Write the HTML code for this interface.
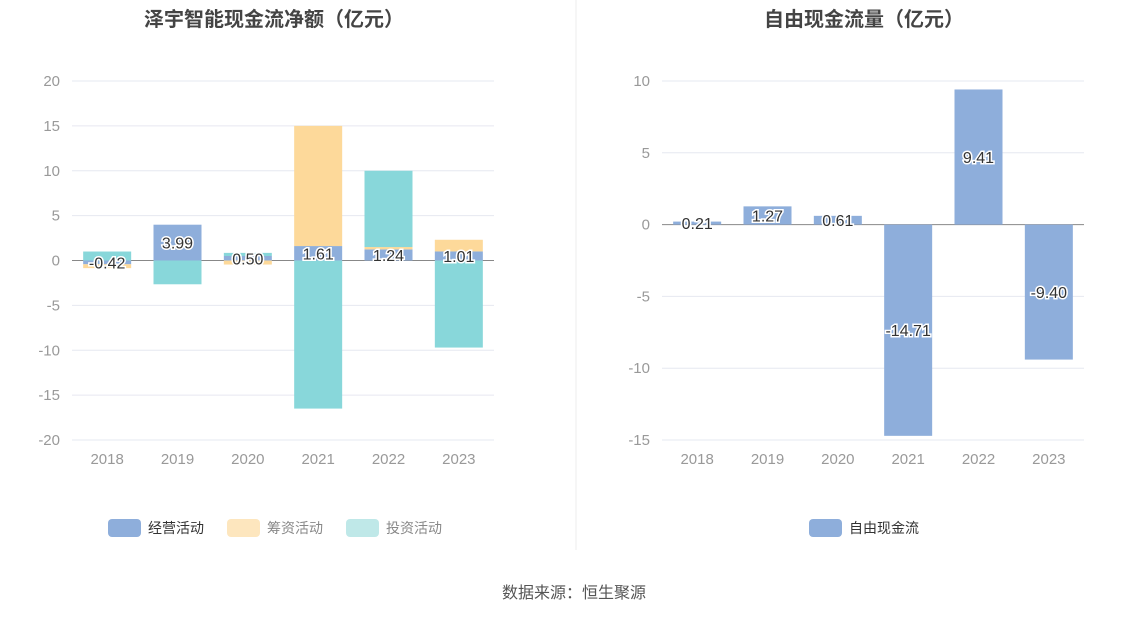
<!DOCTYPE html>
<html><head><meta charset="utf-8"><style>
body{margin:0;background:#fff;font-family:"Liberation Sans","Noto Sans CJK SC",sans-serif;}
svg text{font-family:"Liberation Sans","Noto Sans CJK SC",sans-serif;}
</style></head><body>
<svg id="svg" width="1148" height="619" xmlns="http://www.w3.org/2000/svg">
<text x="274" y="26" text-anchor="middle" font-size="20" font-weight="bold" fill="#444">泽宇智能现金流净额（亿元）</text>
<text x="864" y="26" text-anchor="middle" font-size="20" font-weight="bold" fill="#444">自由现金流量（亿元）</text>
<line x1="576" y1="0" x2="576" y2="550" stroke="#eee"/>
<g id="left"></g><g id="right"></g>
<g>
<rect x="108" y="519" width="33" height="18" rx="4" fill="#8eaedb"/>
<text x="148" y="533" font-size="14" fill="#333">经营活动</text>
<rect x="227" y="519" width="33" height="18" rx="4" fill="#fde6be"/>
<text x="267" y="533" font-size="14" fill="#888">筹资活动</text>
<rect x="346" y="519" width="33" height="18" rx="4" fill="#bfe8e8"/>
<text x="386" y="533" font-size="14" fill="#888">投资活动</text>
</g>
<g>
<rect x="809" y="519" width="33" height="18" rx="4" fill="#8eaedb"/>
<text x="849" y="533" font-size="14" fill="#333">自由现金流</text>
</g>
<text x="574" y="598" text-anchor="middle" font-size="16" fill="#555">数据来源：恒生聚源</text>
</svg>
<script>
const years=["2018","2019","2020","2021","2022","2023"];
const operating=[-0.42,3.99,0.50,1.61,1.24,1.01];
const financing=[-0.43,0,-0.45,13.39,0.26,1.3];
const investing=[1.0,-2.65,0.35,-16.5,8.5,-9.7];
const leftTicks=[20,15,10,5,0,-5,-10,-15,-20];
const fcf=[0.21,1.27,0.61,-14.71,9.41,-9.40];
const rightTicks=[10,5,0,-5,-10,-15];
const NS="http://www.w3.org/2000/svg";
function mk(p,t,a){const e=document.createElementNS(NS,t);for(const k in a)e.setAttribute(k,a[k]);p.appendChild(e);return e;}
function axes(g,x0,x1,yTop,yBot,vTop,vBot,ticks,pfx){
  const y=v=>yTop+(vTop-v)/(vTop-vBot)*(yBot-yTop);
  ticks.forEach(t=>{
    const l=mk(g,'line',{x1:x0,x2:x1,y1:y(t),y2:y(t),stroke:t===0?'#888':'#e6e8f0'});
    
    
    const tx=mk(g,'text',{x:x0-12,y:y(t)+5,'text-anchor':'end','font-size':15,fill:'#999'});tx.textContent=t;
    
    
  });
  const bw=(x1-x0)/years.length;
  years.forEach((yr,i)=>{
    const tx=mk(g,'text',{x:x0+bw*(i+.5),y:yBot+24,'text-anchor':'middle','font-size':15,fill:'#999'});tx.textContent=yr;
    
    
  });
  return {y,bw};
}
function bar(g,x,w,y,v0,v1,fill,name){
  const a=y(v0),b=y(v1);
  const r=mk(g,'rect',{x:x,y:Math.min(a,b),width:w,height:Math.max(Math.abs(a-b),0.5),fill:fill});
  
  
}
function label(g,x,yy,txt,name){
  const t=mk(g,'text',{x:x,y:yy,'text-anchor':'middle','font-size':16,fill:'#333',stroke:'#fff','stroke-width':3,'paint-order':'stroke'});
  t.textContent=txt;
  
  
}
// left
const L=document.getElementById('left');
const la=axes(L,72,494,81,440,20,-20,leftTicks,'left');
years.forEach((yr,i)=>{
  const x=72+la.bw*i+(la.bw-48)/2;
  let pos=0,neg=0;
  [[operating,'#8eaedb','operating'],[financing,'#fdd99a','financing'],[investing,'#88d7da','investing']].forEach(([arr,c,n])=>{
    const v=arr[i];if(v===0)return;
    if(v>0){bar(L,x,48,la.y,pos,pos+v,c,'bar-'+n+'-'+yr);pos+=v;}
    else{bar(L,x,48,la.y,neg,neg+v,c,'bar-'+n+'-'+yr);neg+=v;}
  });
  const v=operating[i];
  label(L,x+24,la.y(v/2)+6,v.toFixed(2),'label-operating-'+yr);
});
// right
const R=document.getElementById('right');
const ra=axes(R,662,1084,81,440,10,-15,rightTicks,'right');
years.forEach((yr,i)=>{
  const x=662+ra.bw*i+(ra.bw-48)/2;
  bar(R,x,48,ra.y,0,fcf[i],'#8eaedb','bar-fcf-'+yr);
  label(R,x+24,ra.y(fcf[i]/2)+6,fcf[i].toFixed(2),'label-fcf-'+yr);
});
</script>
</body></html>
